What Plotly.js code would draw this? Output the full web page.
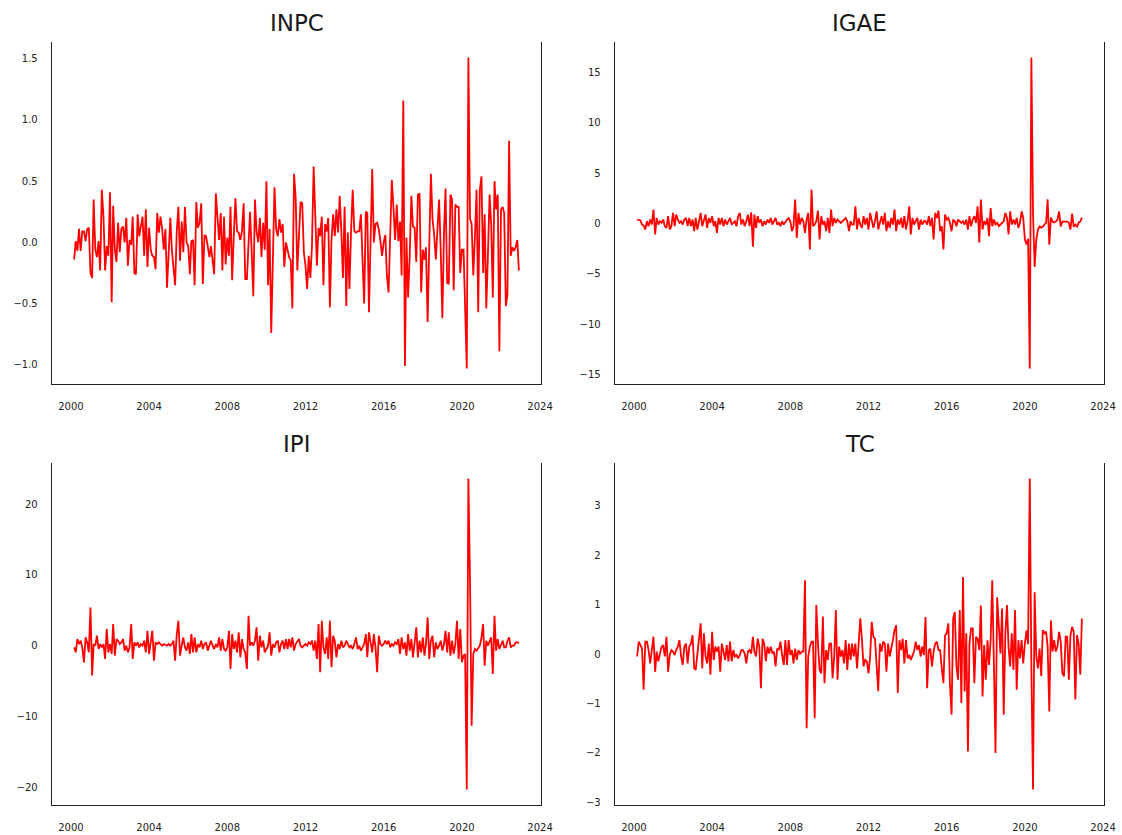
<!DOCTYPE html>
<html>
<head>
<meta charset="utf-8">
<script src="https://cdn.plot.ly/plotly-3.0.1.min.js"></script>
<style>
  html, body { margin: 0; padding: 0; background: #ffffff; }
  #chart { width: 1122px; height: 835px; }
</style>
</head>
<body>
<div id="chart"></div>
<script>
// Monthly series, March 2000 to December 2022
const startYear = 2000;
const startMonth = 3;

const inpc = [
  -0.14, 0.01, -0.07, 0.11, -0.07, 0.09, 0.09, 0.01, 0.11, 0.12, -0.25, -0.29, 0.35, -0.06, -0.12, 0.01, -0.23, 0.43, 0.21, -0.23,
  -0.03, -0.11, 0.41, -0.49, 0.30, -0.06, -0.16, 0.16, -0.08, 0.11, 0.13, 0.00, 0.20, -0.19, 0.02, -0.02, 0.21, -0.25, -0.26, 0.23,
  0.05, 0.12, 0.21, -0.11, 0.27, -0.20, 0.12, -0.06, -0.11, -0.12, -0.22, 0.24, 0.08, 0.21, 0.11, -0.06, 0.11, -0.37, -0.08, 0.20,
  -0.06, -0.25, -0.35, 0.09, 0.29, -0.15, 0.17, -0.08, 0.29, 0.00, -0.03, -0.26, 0.01, 0.02, -0.35, 0.33, 0.12, 0.16, 0.32, -0.34,
  0.06, 0.05, -0.03, -0.12, -0.03, -0.16, -0.26, 0.40, 0.21, 0.02, 0.24, -0.23, 0.21,
  -0.18, 0.04, -0.11, 0.29, -0.31, 0.05, 0.36, 0.09, 0.08, 0.02, 0.09, 0.32, -0.30, -0.30, 0.05, 0.25, -0.08, -0.44, 0.35, 0.09,
  0.00, 0.20, -0.12, 0.16, -0.06, 0.50, -0.35, 0.11, -0.74, 0.00, 0.45, 0.11, 0.05, 0.19, 0.08, 0.15, -0.20, 0.00, -0.07, -0.12,
  -0.15, -0.54, 0.56, 0.37, -0.23, 0.13, 0.33, 0.32, -0.08, -0.19, -0.38, -0.11, -0.29, -0.03, 0.62, 0.23, -0.19, 0.12, 0.05, 0.21,
  -0.35, 0.15, 0.09, 0.20, -0.53, 0.02, 0.23, 0.05, 0.27, 0.08, 0.38, 0.09, -0.29, 0.29, -0.52, 0.08, -0.38, 0.09, 0.43, 0.09,
  0.08, 0.09, 0.09, 0.23, -0.11, -0.50, 0.25, 0.24, -0.57, 0.16, 0.60, 0.00, 0.15, 0.16, 0.11, 0.01, -0.11, 0.00,
  0.06, -0.27, -0.41, 0.05, 0.51, 0.29, 0.02, 0.31, 0.01, 0.17, -0.27, 1.16, -1.01, 0.04, -0.45, -0.11, 0.38, 0.13, 0.12, -0.16,
  0.39, 0.40, -0.41, -0.06, -0.14, -0.04, -0.65, -0.03, 0.56, 0.19, 0.06, -0.14, 0.09, 0.35, -0.06, -0.62, 0.09, 0.44, -0.33, -0.34,
  0.39, 0.35, -0.39, 0.31, 0.29, 0.29, -0.25, -0.06, -0.06, -0.49, -1.03, 1.51, 0.19, 0.15, -0.27, 0.05, 0.43, -0.57, 0.43, 0.54,
  -0.25, 0.23, -0.54, -0.11, 0.39, 0.15, -0.45, 0.50, 0.27, 0.39, -0.89, 0.27, 0.29, 0.24, -0.52, -0.43, 0.83, -0.11, -0.04, -0.07,
  -0.04, 0.02, -0.23
];

const igae = [
  0.40, 0.40, 0.33, -0.10, -0.20, -0.59, 0.23, -0.26, 0.40, -0.10, 1.39, -1.09, 0.56, -0.10, 0.23, 0.07, 0.40, -0.26, -0.43, 0.73,
  -0.59, -0.26, 1.06, -0.26, 0.89, 0.40, 0.07, 0.23, -0.10, 0.40, 0.56, -0.26, 0.56, -0.26, 0.40, -0.76, 0.56, -0.59, 0.23, 1.06,
  -0.26, 0.40, 0.89, -0.43, 0.56, 0.07, 0.73, -0.26, 0.23, -0.92, 0.56, -0.10, 0.56, -0.26, 0.40, -0.10, 0.23, 0.56, -0.10, 0.07,
  0.23, -0.26, 0.73, 1.06, -0.10, 0.40, -0.26, 0.23, 0.89, -0.26, 1.12, -2.31, 0.89, -0.43, 0.73, 0.07, 0.40, -0.26, 0.23, -0.10,
  0.40, 0.07, 0.56, -0.10, 0.23, 0.56, -0.10, 0.07, -0.26, 0.23, -0.10,
  0.23, 0.40, 0.56, 0.23, -0.76, -0.26, 2.38, -1.42, 1.06, -0.10, 0.56, 0.23, -0.92, 0.40, 1.06, -2.57, 3.37, -0.26, -0.10, 0.23,
  1.29, -1.58, 0.73, -0.10, 0.23, -0.76, 0.56, -0.92, 1.39, -0.26, 0.56, 0.07, 0.40, 0.23, 0.07, 0.23, 0.40, 0.56, 0.23, -0.76,
  0.23, -0.10, -0.10, 1.72, -0.59, 0.56, -0.10, -0.43, 0.73, -0.10, 0.56, -0.59, 1.06, 0.23, -0.43, 0.23, 1.22, -0.59, 0.23, 0.73,
  -0.10, 1.06, -0.76, 0.23, -0.43, 0.56, -0.10, 1.39, -0.76, 0.40, -0.10, 0.56, -0.43, 0.73, -0.59, 0.23, 1.72, -1.09, 0.56, -0.10,
  0.23, 0.56, -0.59, 0.40, -0.10, 0.23, 0.23, -0.10, 0.73, -0.26, 0.56, -1.58, 1.06, 0.56, 1.29,
  -0.76, -0.26, -2.57, 0.89, 0.40, 0.56, 0.07, -0.76, 0.40, 0.23, -0.26, 0.40, 0.23, 0.07, 0.23, -0.10, 0.40, -0.59, 0.73, -0.26,
  0.40, 0.73, 0.07, 1.72, -1.91, 2.38, -0.59, 0.23, -0.10, 0.56, -1.25, 1.55, -0.26, 0.40, -0.10, 0.07, -0.26, -0.10, 0.07, 0.23,
  1.06, 0.56, -1.09, 1.22, -0.10, 0.40, -0.10, 0.56, -0.43, 0.07, 1.22, 0.56, -1.58, -2.08, -1.50, -14.4, 16.5, 1.00, -4.30, -1.60,
  -0.60, -0.30, -0.40, -0.30, -0.10, 0.10, 2.40, -2.10, 0.60, 0.20, 0.10, 0.20, 0.40, 1.20, -0.30, 0.20, 0.20, 0.20, 0.20, 0.10,
  -0.60, 1.00, -0.30, -0.10, -0.30, 0.10, 0.20, 0.60
];

const ipi = [
  -0.24, -0.94, 0.94, 0.23, 0.70, -0.24, -2.35, 1.17, 0.47, -0.94, 5.40, -4.20, 0.23, 0.00, 1.41, -0.47, 0.23, -0.24, 0.23, -1.88,
  2.35, -0.94, 0.23, -1.17, 3.05, -1.41, 0.94, 0.70, 0.23, 0.47, 0.94, -0.70, 0.00, -0.94, -0.24, 3.05, -1.88, 0.47, 0.00, 0.47,
  -0.24, 0.23, 0.00, 0.70, -0.94, 2.11, -1.17, 0.23, 2.11, -2.11, 0.47, 0.23, 0.47, 0.23, 0.00, 0.23, 0.14, 0.00, 0.23, 0.00,
  0.23, 0.70, -2.11, 1.64, 3.52, -1.41, 0.00, 1.17, -0.24, -0.70, 0.47, -1.17, 1.64, -0.94, 1.17, -0.94, 0.23, -0.24, 0.70, -0.47,
  0.23, 0.47, -0.70, 0.23, 0.70, 0.00, -0.47, 0.23, -0.24, 1.17, -0.70, 0.94, -0.47,
  -0.70, -0.24, 2.11, -3.29, 1.64, -0.47, 0.70, -0.94, 1.88, -1.64, 0.94, -0.47, -0.94, -3.29, 4.23, 0.00, 0.47, 0.00, 0.70, 2.58,
  -2.11, 1.41, -0.24, 0.70, -0.94, -0.47, 0.00, 1.88, -1.41, 0.23, -0.24, 0.47, 0.70, -0.94, 0.23, 0.70, -0.47, 0.94, -0.47, 0.94,
  -0.24, 1.17, -0.70, 0.23, 0.70, 0.94, 0.00, -0.24, 0.00, 0.23, 0.00, 0.47, 0.23, 0.70, -0.70, 0.70, -1.88, 3.05, -3.76, 3.52,
  -0.24, -1.17, 1.17, -1.88, 3.52, -3.05, 1.41, 0.70, -1.64, 0.23, -0.47, 0.70, -0.24, 0.00, 0.70, 0.23, -0.24, 0.00, -0.47, 0.23,
  1.17, -0.47, 0.00, -0.70, -0.24, 0.23, 1.64, -1.64, 1.88, 0.23, -0.94, 1.64, -0.24, -3.76, 1.41, 0.23, 0.00, 0.23,
  0.70, 0.23, 0.70, -0.24, 0.23, 0.00, 0.47, 0.23, 0.94, -1.17, 1.17, -0.47, 0.47, -1.41, 1.64, -0.70, 0.94, -1.64, 0.70, 2.58,
  -1.64, 0.70, -0.94, 1.17, -1.41, 0.23, 3.99, -1.88, 0.70, 1.41, -1.64, 0.47, -0.47, 0.00, 0.70, -0.70, 0.23, 2.11, -0.94, 1.88,
  -1.41, 0.70, -1.17, 0.23, 3.52, -1.88, 2.35, -2.35, -1.41, -1.20, -20.3, 23.6, 9.00, -11.3, -1.17, -0.47, -0.70, -0.24, 0.00, 1.17,
  3.05, -2.82, 0.70, 0.00, 0.70, 1.17, -3.99, 4.23, -0.70, 0.94, -0.47, 0.23, 0.70, -0.24, -0.24, 0.70, 1.17, -0.24, 0.00, 0.00,
  0.47, 0.47, 0.33
];

const tc = [
  -0.05, 0.25, 0.18, 0.11, -0.72, 0.25, 0.25, 0.08, -0.19, 0.15, 0.35, -0.36, 0.05, -0.15, 0.01, 0.15, 0.18, -0.05, 0.35, -0.36,
  -0.02, 0.08, 0.05, -0.02, 0.08, 0.15, 0.28, -0.05, -0.22, 0.15, 0.21, -0.19, 0.15, 0.21, 0.38, -0.29, -0.32, 0.01, 0.28, 0.62,
  -0.29, 0.42, -0.05, -0.19, 0.21, -0.42, 0.45, -0.12, 0.15, 0.05, 0.15, -0.36, 0.21, 0.05, -0.12, 0.18, -0.15, 0.25, -0.15, 0.08,
  -0.05, -0.02, -0.09, -0.02, 0.08, 0.08, 0.01, -0.19, 0.05, 0.08, 0.01, 0.35, 0.05, -0.05, 0.31, 0.15, -0.69, 0.31, 0.21, -0.15,
  0.15, 0.01, 0.15, 0.01, 0.05, -0.25, 0.11, 0.08, 0.25, -0.02, -0.22,
  0.28, -0.22, 0.28, -0.02, 0.08, -0.19, 0.11, -0.12, 0.08, 0.01, 0.05, 0.05, 1.49, -1.50, -0.05, 0.15, 0.25, 0.25, -1.30, 0.99,
  0.21, -0.32, -0.39, 0.76, -0.59, 0.08, -0.12, 0.21, 0.21, -0.49, -0.05, 0.89, -0.52, 0.15, -0.05, 0.08, -0.19, 0.28, -0.32, 0.21,
  -0.12, 0.21, -0.05, 0.21, -0.29, 0.25, 0.72, 0.28, -0.25, -0.12, -0.15, -0.39, -0.05, 0.65, 0.35, 0.31, -0.32, -0.75, 0.21, 0.05,
  0.25, 0.21, -0.36, 0.21, -0.05, 0.08, 0.28, 0.48, 0.58, -0.79, 0.28, 0.08, 0.31, -0.19, 0.28, -0.09, -0.02, -0.12, -0.02, 0.05,
  0.25, 0.08, 0.18, -0.05, 0.15, -0.02, 0.75, -0.69, 0.08, 0.11, -0.25, 0.05, 0.21, 0.25, 0.08,
  0.08, -0.29, -0.59, 0.38, 0.42, 0.62, -0.59, -1.23, 0.72, 0.85, -0.25, -0.52, 0.89, -0.99, 1.56, -0.76, 0.42, -1.97, 0.21, 0.52,
  0.52, -0.59, 0.35, 0.31, 0.08, 0.98, -0.86, 0.18, -0.52, 0.28, -0.22, 0.28, 1.49, -0.19, -2.00, 1.15, 0.62, 0.01, 0.92, -1.23,
  0.42, 0.99, 0.15, -0.25, 0.42, -0.32, 0.89, -0.72, 0.28, -0.09, 0.28, -0.19, 0.21, 0.48, 0.20, 3.55, -0.30, -2.74, 1.25, -0.05,
  -0.29, 0.11, -0.45, 0.48, 0.42, 0.45, 0.15, -1.16, 0.68, 0.05, 0.28, 0.05, 0.15, 0.45, 0.25, -0.39, -0.45, 0.35, 0.35, -0.52,
  0.38, 0.55, 0.45, -0.92, 0.38, 0.21, -0.42, 0.72
];

const panelTitles = ['INPC', 'IGAE', 'IPI', 'TC'];
const yTickStep = [0.5, 5, 10, 1];
const yTickFormat = ['.1f', 'd', 'd', 'd'];

// Month-start dates for each observation
function monthDates(n) {
  const out = [];
  for (let k = 0; k < n; k++) {
    const m0 = startMonth - 1 + k;
    const y = startYear + Math.floor(m0 / 12);
    const m = (m0 % 12) + 1;
    out.push(y + '-' + String(m).padStart(2, '0') + '-01');
  }
  return out;
}

// Data limits with a 5% margin on each side
function paddedRange(arr) {
  const lo = Math.min(...arr), hi = Math.max(...arr);
  const pad = (hi - lo) * 0.05;
  return [lo - pad, hi + pad];
}

const series = [inpc, igae, ipi, tc];
const W = 1122, H = 835;
const colPx = [[52, 541], [615, 1104], [52, 541], [615, 1104]];
const rowPx = [[42, 384], [42, 384], [463, 805], [463, 805]];
const titleY = [23, 23, 444, 444];

const ink = '#222222';
const tickFont = { family: 'DejaVu Sans, sans-serif', size: 10, color: ink };

const traces = [];
const layout = {
  width: W, height: H,
  margin: { l: 0, r: 0, t: 0, b: 0 },
  paper_bgcolor: '#ffffff',
  plot_bgcolor: '#ffffff',
  showlegend: false,
  annotations: []
};

series.forEach((vals, k) => {
  const sfx = k === 0 ? '' : String(k + 1);
  const dates = monthDates(vals.length);
  traces.push({
    type: 'scatter', mode: 'lines',
    x: dates, y: vals,
    xaxis: 'x' + sfx, yaxis: 'y' + sfx,
    line: { color: '#ff0000', width: 1.8 },
    hoverinfo: 'skip'
  });

  layout['xaxis' + sfx] = {
    domain: [colPx[k][0] / W, colPx[k][1] / W],
    anchor: 'y' + sfx,
    type: 'date',
    range: ['1999-01-13', '2024-01-18'],
    tick0: '2000-01-01', dtick: 'M48', tickformat: '%Y',
    showgrid: false, zeroline: false,
    showline: true, linecolor: ink, linewidth: 1.3, mirror: false,
    ticks: 'outside', ticklen: 13, tickcolor: 'rgba(0,0,0,0)',
    tickfont: tickFont, automargin: false, fixedrange: true
  };
  layout['yaxis' + sfx] = {
    domain: [1 - rowPx[k][1] / H, 1 - rowPx[k][0] / H],
    anchor: 'x' + sfx,
    range: paddedRange(vals),
    dtick: yTickStep[k], tick0: 0, tickformat: yTickFormat[k],
    showgrid: false, zeroline: false,
    showline: true, linecolor: ink, linewidth: 1.3, mirror: true,
    ticks: 'outside', ticklen: 11, tickcolor: 'rgba(0,0,0,0)',
    tickfont: tickFont, automargin: false, fixedrange: true
  };
  layout.annotations.push({
    text: panelTitles[k],
    xref: 'paper', yref: 'paper',
    x: (colPx[k][0] + colPx[k][1]) / 2 / W,
    y: 1 - titleY[k] / H,
    xanchor: 'center', yanchor: 'middle',
    showarrow: false,
    font: { family: 'DejaVu Sans, sans-serif', size: 23, color: '#1a1a1a' }
  });
});

Plotly.newPlot('chart', traces, layout, { displayModeBar: false, staticPlot: true });
</script>
</body>
</html>
